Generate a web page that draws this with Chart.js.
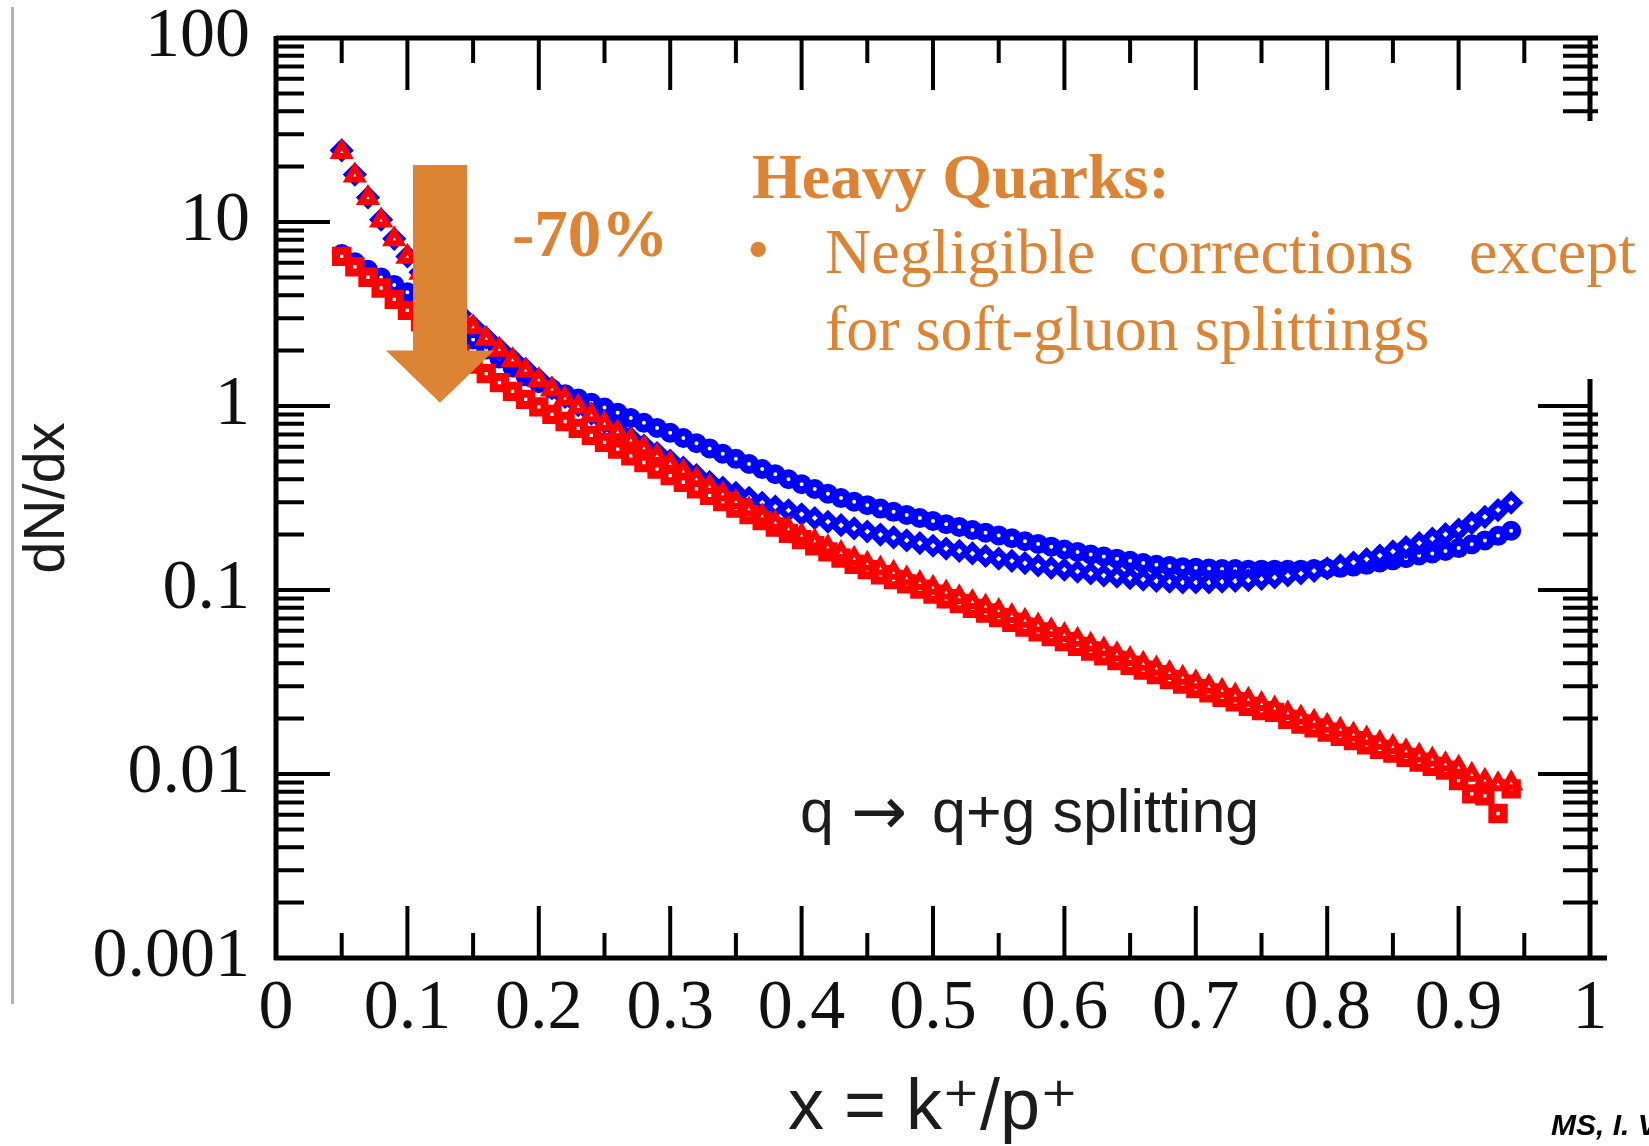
<!DOCTYPE html>
<html>
<head>
<meta charset="utf-8">
<title>q → q+g splitting</title>
<script src="https://cdn.jsdelivr.net/npm/chart.js@4.4.1/dist/chart.umd.min.js"></script>
<style>
  html, body { margin: 0; padding: 0; background: #fff; }
  canvas { display: block; }
</style>
</head>
<body>
<canvas id="splitting" width="1649" height="1146"></canvas>
<script>
// x = k+/p+ where the curves are sampled
const xValues = [0.05, 0.06, 0.07, 0.08, 0.09, 0.10, 0.11, 0.12, 0.13, 0.14,
  0.15, 0.16, 0.17, 0.18, 0.19, 0.20, 0.21, 0.22, 0.23, 0.24,
  0.25, 0.26, 0.27, 0.28, 0.29, 0.30, 0.31, 0.32, 0.33, 0.34,
  0.35, 0.36, 0.37, 0.38, 0.39, 0.40, 0.41, 0.42, 0.43, 0.44,
  0.45, 0.46, 0.47, 0.48, 0.49, 0.50, 0.51, 0.52, 0.53, 0.54,
  0.55, 0.56, 0.57, 0.58, 0.59, 0.60, 0.61, 0.62, 0.63, 0.64,
  0.65, 0.66, 0.67, 0.68, 0.69, 0.70, 0.71, 0.72, 0.73, 0.74,
  0.75, 0.76, 0.77, 0.78, 0.79, 0.80, 0.81, 0.82, 0.83, 0.84,
  0.85, 0.86, 0.87, 0.88, 0.89, 0.90, 0.91, 0.92, 0.93, 0.94];

// red triangles (steep at small x)
const redTriangles = [24, 17.9, 13.5, 10.2, 8.05, 6.47, 5.3, 4.4, 3.7, 3.13,
  2.68, 2.32, 2.02, 1.77, 1.56, 1.38, 1.23, 1.1, 0.99, 0.89,
  0.8, 0.72, 0.65, 0.59, 0.535, 0.485, 0.44, 0.4, 0.364, 0.331,
  0.301, 0.275, 0.252, 0.232, 0.214, 0.198, 0.184, 0.171, 0.159, 0.148,
  0.139, 0.131, 0.124, 0.116, 0.109, 0.103, 0.097, 0.0914, 0.0861, 0.0813,
  0.0768, 0.0723, 0.0681, 0.0642, 0.0604, 0.0569, 0.0536, 0.0504, 0.0475, 0.0448,
  0.0422, 0.0397, 0.0375, 0.0354, 0.0334, 0.0315, 0.0298, 0.0283, 0.0267, 0.0253,
  0.024, 0.0227, 0.0214, 0.0203, 0.0192, 0.0183, 0.0174, 0.0164, 0.0156, 0.0148,
  0.014, 0.0133, 0.0126, 0.012, 0.0113, 0.0108, 0.0099, 0.0092, 0.0088, 0.0089];

// red squares
const redSquares = [6.5, 5.71, 5.01, 4.38, 3.8, 3.31, 2.87, 2.5, 2.19, 1.92,
  1.69, 1.5, 1.34, 1.2, 1.087, 0.99, 0.9, 0.824, 0.755, 0.692,
  0.635, 0.583, 0.536, 0.493, 0.454, 0.418, 0.385, 0.355, 0.327, 0.302,
  0.279, 0.257, 0.238, 0.22, 0.203, 0.188, 0.174, 0.161, 0.149, 0.138,
  0.129, 0.121, 0.114, 0.108, 0.101, 0.095, 0.0896, 0.0844, 0.0795, 0.075,
  0.0708, 0.0668, 0.0629, 0.0592, 0.0558, 0.0525, 0.0494, 0.0466, 0.0439, 0.0414,
  0.039, 0.0367, 0.0347, 0.0326, 0.0308, 0.0291, 0.0276, 0.0261, 0.0247, 0.0233,
  0.0221, 0.0216, 0.0198, 0.0187, 0.0178, 0.0169, 0.016, 0.0152, 0.0144, 0.0136,
  0.013, 0.0123, 0.0116, 0.011, 0.0105, 0.0092, 0.0078, 0.0076, 0.0061, 0.0083];

// blue diamonds (steep at small x, upper at large x)
const blueDiamonds = [24.5, 18.1, 13.6, 10.3, 8.1, 6.5, 5.33, 4.43, 3.73, 3.16,
  2.71, 2.35, 2.05, 1.8, 1.59, 1.4, 1.25, 1.12, 1.01, 0.91,
  0.82, 0.74, 0.67, 0.61, 0.555, 0.505, 0.462, 0.421, 0.386, 0.36,
  0.337, 0.317, 0.298, 0.284, 0.271, 0.258, 0.246, 0.235, 0.225, 0.216,
  0.208, 0.2, 0.193, 0.186, 0.18, 0.174, 0.168, 0.163, 0.158, 0.153,
  0.148, 0.144, 0.14, 0.136, 0.132, 0.129, 0.126, 0.123, 0.12, 0.118,
  0.116, 0.114, 0.112, 0.111, 0.11, 0.11, 0.11, 0.111, 0.112, 0.113,
  0.115, 0.117, 0.12, 0.123, 0.127, 0.131, 0.136, 0.141, 0.147, 0.154,
  0.162, 0.171, 0.18, 0.19, 0.201, 0.213, 0.231, 0.25, 0.272, 0.298];

// blue circles
const blueCircles = [6.7, 6.05, 5.5, 5.0, 4.55, 4.15, 3.72, 3.33, 2.98, 2.62,
  2.3, 2.03, 1.81, 1.62, 1.45, 1.33, 1.24, 1.16, 1.1, 1.04,
  0.98, 0.92, 0.86, 0.81, 0.76, 0.715, 0.67, 0.628, 0.588, 0.551,
  0.516, 0.484, 0.454, 0.426, 0.4, 0.376, 0.354, 0.334, 0.316, 0.302,
  0.289, 0.277, 0.266, 0.256, 0.246, 0.237, 0.228, 0.22, 0.212, 0.205,
  0.198, 0.191, 0.184, 0.178, 0.172, 0.166, 0.161, 0.156, 0.152, 0.148,
  0.144, 0.14, 0.137, 0.135, 0.133, 0.132, 0.131, 0.13, 0.13, 0.129,
  0.129, 0.129, 0.129, 0.129, 0.13, 0.131, 0.132, 0.134, 0.137, 0.141,
  0.145, 0.149, 0.154, 0.158, 0.163, 0.169, 0.177, 0.186, 0.197, 0.21];

const xTickValues = [0, 0.1, 0.2, 0.3, 0.4, 0.5, 0.6, 0.7, 0.8, 0.9, 1];
const xTickLabels = ['0', '0.1', '0.2', '0.3', '0.4', '0.5', '0.6', '0.7', '0.8', '0.9', '1'];
const yTickValues = [0.001, 0.01, 0.1, 1, 10, 100];
const yTickLabels = ['0.001', '0.01', '0.1', '1', '10', '100'];

const ORANGE = '#DC8434';

function points(ys) {
  return xValues.map((x, i) => ({ x: x, y: ys[i] }));
}

// frame with inward ticks on all four sides, plus the slide overlay
const framePlugin = {
  id: 'frame',
  afterDraw(chart) {
    const { ctx, chartArea: a, scales } = chart;
    const xs = scales.x, ys = scales.y;
    ctx.save();

    // thin grey rule at the far left of the slide
    ctx.fillStyle = '#b4b4b4';
    ctx.fillRect(11, 7, 3, 997);

    ctx.strokeStyle = '#000';
    ctx.lineWidth = 5;
    ctx.beginPath();
    ctx.moveTo(a.left, a.top); ctx.lineTo(a.right + 8, a.top);
    ctx.moveTo(a.left, a.top - 2); ctx.lineTo(a.left, a.bottom + 2);
    ctx.moveTo(a.left - 2, a.bottom); ctx.lineTo(a.right + 17, a.bottom);
    ctx.moveTo(a.right, a.top); ctx.lineTo(a.right, a.bottom);
    ctx.stroke();

    ctx.lineWidth = 4;
    ctx.beginPath();
    xTickValues.forEach(v => {
      const px = xs.getPixelForValue(v);
      ctx.moveTo(px, a.bottom); ctx.lineTo(px, a.bottom - 52);
      ctx.moveTo(px, a.top); ctx.lineTo(px, a.top + 52);
    });
    for (let i = 0; i < xTickValues.length - 1; i++) {
      const px = xs.getPixelForValue((xTickValues[i] + xTickValues[i + 1]) / 2);
      ctx.moveTo(px, a.bottom); ctx.lineTo(px, a.bottom - 25);
      ctx.moveTo(px, a.top); ctx.lineTo(px, a.top + 25);
    }
    yTickValues.forEach(v => {
      const py = ys.getPixelForValue(v);
      ctx.moveTo(a.left, py); ctx.lineTo(a.left + 54, py);
      ctx.moveTo(a.right, py); ctx.lineTo(a.right - 52, py);
    });
    yTickValues.slice(0, -1).forEach(d => {
      for (let k = 2; k <= 9; k++) {
        const py = ys.getPixelForValue(d * k);
        ctx.moveTo(a.left, py); ctx.lineTo(a.left + 28, py);
        ctx.moveTo(a.right - 27, py); ctx.lineTo(a.right + 8, py);
      }
    });
    ctx.stroke();

    // label inside the frame, arrow taken from DejaVu for its long shaft
    ctx.fillStyle = '#1c1c1c';
    ctx.textBaseline = 'alphabetic';
    ctx.textAlign = 'left';
    ctx.font = '61px "Liberation Sans", sans-serif';
    ctx.fillText('q', 800, 832);
    ctx.fillText('q+g splitting', 932, 832);
    ctx.font = '67px "DejaVu Sans", sans-serif';
    ctx.fillText('\u2192', 851, 834);

    // white box behind the slide text
    ctx.fillStyle = '#fff';
    ctx.fillRect(736, 121, 1649 - 736, 379 - 121);

    // big down arrow
    const ax = xs.getPixelForValue(0.1248);
    const aTop = ys.getPixelForValue(20.4);
    const aBase = ys.getPixelForValue(2.0);
    const aTip = ys.getPixelForValue(1.04);
    ctx.fillStyle = ORANGE;
    ctx.beginPath();
    ctx.moveTo(ax - 27, aTop);
    ctx.lineTo(ax + 27, aTop);
    ctx.lineTo(ax + 27, aBase);
    ctx.lineTo(ax + 54, aBase);
    ctx.lineTo(ax, aTip);
    ctx.lineTo(ax - 54, aBase);
    ctx.lineTo(ax - 27, aBase);
    ctx.closePath();
    ctx.fill();

    ctx.font = 'bold 67px "Liberation Serif", serif';
    ctx.fillText('-70%', 512, 256);
    ctx.font = 'bold 64px "Liberation Serif", serif';
    ctx.fillText('Heavy Quarks:', 752, 198);
    ctx.font = '64px "Liberation Serif", serif';
    ctx.fillText('\u2022', 747, 271);
    ctx.fillText('Negligible', 825, 273);
    ctx.fillText('corrections', 1129, 273);
    ctx.fillText('except', 1469, 273);
    ctx.fillText('for soft-gluon splittings', 825, 350);

    ctx.fillStyle = '#000';
    ctx.font = 'italic bold 30px "Liberation Sans", sans-serif';
    ctx.fillText('MS, I. V', 1551, 1135);
    ctx.restore();
  }
};

new Chart(document.getElementById('splitting'), {
  type: 'scatter',
  data: {
    datasets: [
      {
        label: 'red triangles',
        data: points(redTriangles),
        pointStyle: 'triangle',
        pointRadius: 8,
        pointBorderWidth: 6,
        pointBorderColor: '#ff0000',
        pointBackgroundColor: '#ffffff'
      },
      {
        label: 'red squares',
        data: points(redSquares),
        pointStyle: 'rect',
        pointRadius: 8,
        pointBorderWidth: 8,
        pointBorderColor: '#ff0000',
        pointBackgroundColor: '#ffffff'
      },
      {
        label: 'blue diamonds',
        data: points(blueDiamonds),
        pointStyle: 'rectRot',
        pointRadius: 7.5,
        pointBorderWidth: 6.5,
        pointBorderColor: '#0000ff',
        pointBackgroundColor: '#ffffff'
      },
      {
        label: 'blue circles',
        data: points(blueCircles),
        pointStyle: 'circle',
        pointRadius: 6,
        pointBorderWidth: 8,
        pointBorderColor: '#0000ff',
        pointBackgroundColor: '#ffffff'
      }
    ]
  },
  options: {
    responsive: false,
    animation: false,
    devicePixelRatio: 1,
    layout: { padding: { top: 38, right: 59, bottom: 0, left: 0 } },
    plugins: { legend: { display: false }, tooltip: { enabled: false } },
    scales: {
      x: {
        type: 'linear',
        min: 0,
        max: 1,
        afterBuildTicks: s => { s.ticks = xTickValues.map(v => ({ value: v })); },
        afterFit: s => { s.height = 188; },
        grid: { display: false, drawTicks: false },
        border: { display: false },
        ticks: {
          autoSkip: false,
          maxRotation: 0,
          padding: 17,
          color: '#111',
          font: { family: '"Liberation Serif", serif', size: 70, lineHeight: 1 },
          callback: (v, i) => xTickLabels[i]
        },
        title: {
          display: true,
          text: 'x = k\u207A/p\u207A',
          color: '#1c1c1c',
          font: { family: '"Liberation Sans", "DejaVu Sans", sans-serif', size: 72, lineHeight: 1 },
          padding: { top: 0, bottom: 1 }
        }
      },
      y: {
        type: 'logarithmic',
        min: 0.001,
        max: 100,
        afterBuildTicks: s => { s.ticks = yTickValues.map(v => ({ value: v })); },
        afterFit: s => { s.width = 276; },
        grid: { display: false, drawTicks: false },
        border: { display: false },
        ticks: {
          autoSkip: false,
          padding: 26,
          color: '#111',
          font: { family: '"Liberation Serif", serif', size: 70, lineHeight: 0.2 },
          callback: (v, i) => yTickLabels[i]
        },
        title: {
          display: true,
          text: 'dN/dx',
          color: '#1c1c1c',
          font: { family: '"Liberation Sans", sans-serif', size: 58, lineHeight: 1 },
          padding: { top: 19, bottom: 0 }
        }
      }
    }
  },
  plugins: [framePlugin]
});
</script>
</body>
</html>
